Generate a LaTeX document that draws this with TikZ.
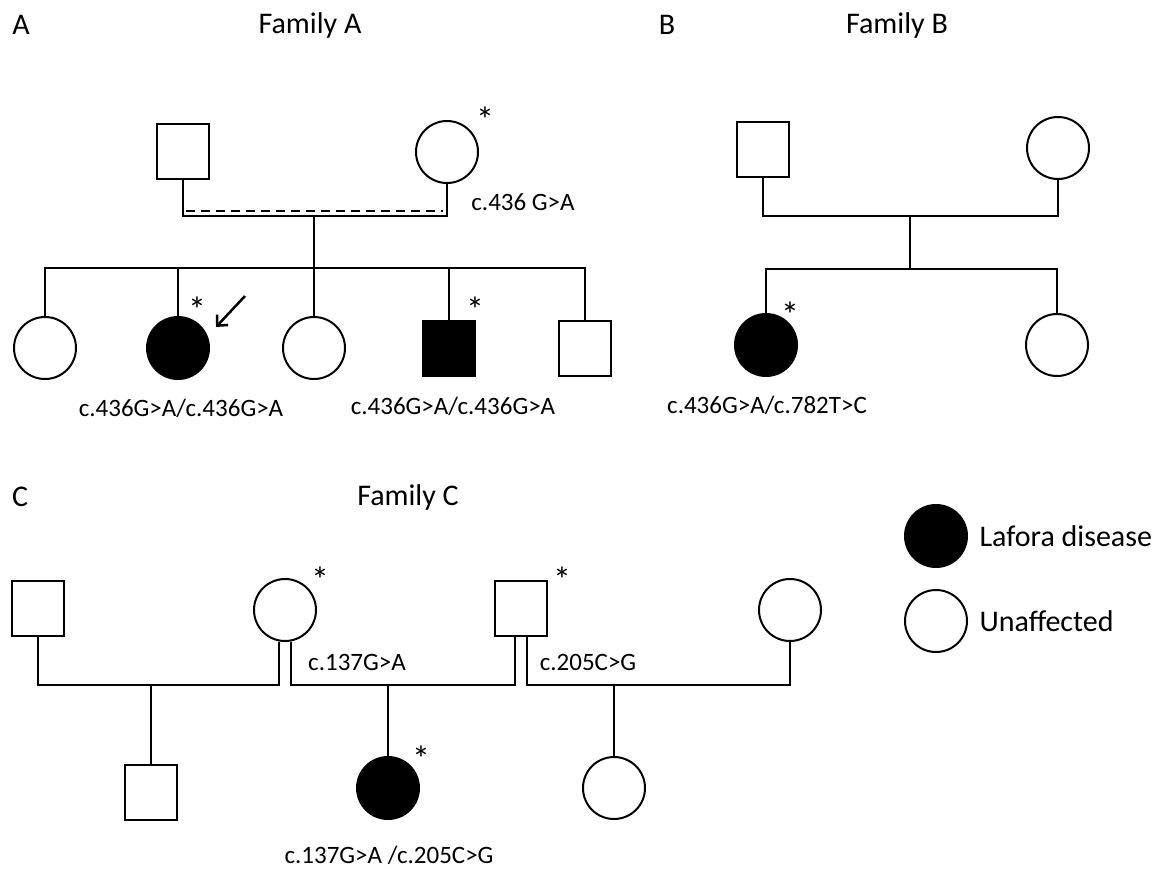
\documentclass[tikz,border=0pt]{standalone}
\usepackage{fontspec}
\setmainfont{Carlito}
\usetikzlibrary{arrows.meta}
\tikzset{
  male/.style={draw, rectangle, line width=2pt, minimum width=52pt, minimum height=55pt, inner sep=0pt},
  female/.style={draw, circle, line width=2pt, minimum size=62pt, inner sep=0pt},
  sick/.style={fill=black},
  link/.style={line width=2pt},
  consang/.style={line width=2pt, dash pattern=on 9pt off 6pt},
  title/.style={font=\fontsize{30}{34}\selectfont},
  geno/.style={font=\fontsize{25}{29}\selectfont},
  star/.style={font=\fontsize{36}{40}\selectfont, inner sep=0pt},
}
\begin{document}
\begin{tikzpicture}[x=1pt, y=-1pt]
    \useasboundingbox (0,0) rectangle (1156,868);
    % headings
    \node[title] (lblA) at (21,25) {A};
    \node[title] (titA) at (310,25) {Family A};
    \node[title] (lblB) at (667,25) {B};
    \node[title] (titB) at (897,25) {Family B};
    \node[title] (lblC) at (20,497) {C};
    \node[title] (titC) at (408,497) {Family C};

    % family A
    \node[male] (aF) at (183,151) {};
    \node[female] (aM) at (447,152) {};
    \node[female] (aK1) at (45,348) {};
    \node[female, sick] (aK2) at (178,348) {};
    \node[female] (aK3) at (314,348) {};
    \node[male, sick] (aK4) at (449,348) {};
    \node[male] (aK5) at (585,348) {};
    \coordinate (aMar) at (314,216);
    \coordinate (aSib) at (314,268);
    \coordinate (aDash) at (314,211);
    \draw[link] (aF) |- (aMar) -| (aM);
    \draw[consang] ([xshift=3pt]aF.south |- aDash) -- ([xshift=-4pt]aM.south |- aDash);
    \draw[link] (aMar) -- (aK3);
    \draw[link] (aK1) |- (aSib) -| (aK5);
    \foreach \k in {aK2, aK4}
        \draw[link] (\k) -- (\k |- aSib);
    \node[star] (aS1) at (485,120) {*};
    \node[star] (aS2) at (197,310) {*};
    \node[star] (aS4) at (475,310) {*};
    \coordinate (arrS) at (245,296);
    \coordinate (arrE) at (216,327);
    \draw[line width=2.5pt, -{Straight Barb[length=8pt, width=15pt]}] (arrS) -- (arrE);
    \node[geno] (aG0) at (523,202) {c.436 G>A};
    \node[geno] (aG2) at (181,408) {c.436G>A/c.436G>A};
    \node[geno] (aG4) at (453,406) {c.436G>A/c.436G>A};

    % family B
    \node[male] (bF) at (763,149) {};
    \node[female] (bM) at (1058,148) {};
    \node[female, sick] (bK1) at (766,345) {};
    \node[female] (bK2) at (1057,345) {};
    \coordinate (bMar) at (910,216);
    \coordinate (bSib) at (910,269);
    \draw[link] (bF) |- (bMar) -| (bM);
    \draw[link] (bMar) -- (bSib);
    \draw[link] (bK1) |- (bSib) -| (bK2);
    \node[star] (bS1) at (790,315) {*};
    \node[geno] (bG1) at (767,405) {c.436G>A/c.782T>C};

    % family C
    \node[male] (cP1) at (38,608) {};
    \node[female] (cP2) at (285,610) {};
    \node[male] (cP3) at (521,608) {};
    \node[female] (cP4) at (790,610) {};
    \node[male] (cK1) at (151,792) {};
    \node[female, sick] (cK2) at (388,788) {};
    \node[female] (cK3) at (614,788) {};
    \coordinate (cMar1) at (151,685);
    \coordinate (cMar2) at (388,685);
    \coordinate (cMar3) at (614,685);
    \draw[link] (cP1) |- (cMar1) -| ([xshift=-6pt]cP2.south);
    \draw[link] ([xshift=6pt]cP2.south) |- (cMar2) -| ([xshift=-6pt]cP3.south);
    \draw[link] ([xshift=6pt]cP3.south) |- (cMar3) -| (cP4);
    \draw[link] (cMar1) -- (cK1);
    \draw[link] (cMar2) -- (cK2);
    \draw[link] (cMar3) -- (cK3);
    \node[star] (cS2) at (320,580) {*};
    \node[star] (cS3) at (562,580) {*};
    \node[star] (cS6) at (421,759) {*};
    \node[geno] (cG2) at (357,662) {c.137G>A};
    \node[geno] (cG3) at (588,662) {c.205C>G};
    \node[geno] (cG6) at (389,855) {c.137G>A /c.205C>G};

    % legend
    \node[female, sick] (keySick) at (936,536) {};
    \node[female] (keyWell) at (936,621) {};
    \node[title, anchor=west] (keySickTxt) at (976,536) {Lafora disease};
    \node[title, anchor=west] (keyWellTxt) at (976,621) {Unaffected};
\end{tikzpicture}
\end{document}
